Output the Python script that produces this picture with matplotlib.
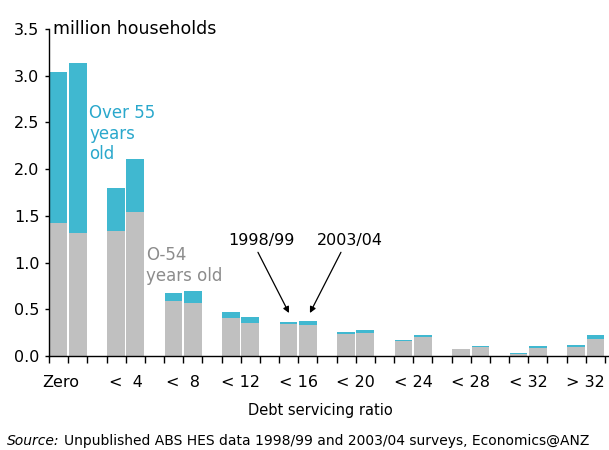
import matplotlib
matplotlib.use("Agg")
import matplotlib.pyplot as plt
import numpy as np

categories = ["Zero", "<  4", "<  8", "< 12", "< 16", "< 20", "< 24", "< 28", "< 32", "> 32"]

# million households, split by age of household head
under55_9899 = [1.42, 1.34, 0.59, 0.41, 0.34, 0.24, 0.16, 0.075, 0.025, 0.10]
total_9899   = [3.04, 1.80, 0.67, 0.47, 0.36, 0.26, 0.175, 0.075, 0.035, 0.12]
under55_0304 = [1.32, 1.54, 0.57, 0.35, 0.33, 0.25, 0.20, 0.10, 0.09, 0.18]
total_0304   = [3.14, 2.11, 0.70, 0.42, 0.37, 0.28, 0.225, 0.11, 0.11, 0.22]

y_ticks = [0.0, 0.5, 1.0, 1.5, 2.0, 2.5, 3.0, 3.5]

TEAL = "#40B8D0"
GREY = "#C0C0C0"

plt.rcParams["font.family"] = "DejaVu Sans"

fig = plt.figure(figsize=(6.09, 4.50), dpi=100)
ax = fig.add_axes([49 / 609, 94 / 450, 560 / 609, 327 / 450])

n = len(categories)
idx = np.arange(n)
x1 = 3 * idx + 0.5
x2 = 3 * idx + 1.5
w = 0.92

u1 = np.array(under55_9899)
u2 = np.array(under55_0304)
o1 = np.array(total_9899) - u1
o2 = np.array(total_0304) - u2

ax.bar(x1, u1, width=w, color=GREY, linewidth=0)
ax.bar(x1, o1, bottom=u1, width=w, color=TEAL, linewidth=0)
ax.bar(x2, u2, width=w, color=GREY, linewidth=0)
ax.bar(x2, o2, bottom=u2, width=w, color=TEAL, linewidth=0)

ax.set_xlim(0, 560 / 19.17)
ax.set_ylim(0, 3.5)

for s in ["top", "right"]:
    ax.spines[s].set_visible(False)
for s in ["left", "bottom"]:
    ax.spines[s].set_color("black")
    ax.spines[s].set_linewidth(1.0)

ax.set_yticks(y_ticks)
ax.set_yticklabels([f"{v:.1f}" for v in y_ticks])
ax.tick_params(axis="y", length=3, width=1, labelsize=11.5, pad=4)

ax.set_xticks(np.arange(0, 30, 1))
ax.set_xticklabels([])
ax.tick_params(axis="x", length=5, width=1, direction="out")

for i, lab in enumerate(categories):
    xc = 3 * i + 1.0 - (0.4 if i == 0 else 0.0)
    ax.text(xc, -0.20, lab, ha="center", va="top", fontsize=11.5, clip_on=False)

fig.text(320 / 609, 1 - 411 / 450, "Debt servicing ratio", ha="center", va="center", fontsize=10.5)
fig.text(7 / 609, 1 - 441 / 450, "Source:", ha="left", va="center", fontsize=10, style="italic")
fig.text(64 / 609, 1 - 441 / 450,
         "Unpublished ABS HES data 1998/99 and 2003/04 surveys, Economics@ANZ",
         ha="left", va="center", fontsize=10)

ax.text(0.2, 3.5, "million households", ha="left", va="center", fontsize=12.5)

ax.text(2.09, 2.70, "Over 55\nyears\nold", ha="left", va="top", fontsize=12,
        color="#2AA8CC", linespacing=1.2)
ax.text(5.06, 1.18, "O-54\nyears old", ha="left", va="top", fontsize=12,
        color="#8C8C8C", linespacing=1.2)

ax.text(11.06, 1.24, "1998/99", ha="center", va="center", fontsize=11.5)
ax.text(15.7, 1.24, "2003/04", ha="center", va="center", fontsize=11.5)

arrow_style = dict(arrowstyle="-|>", color="black", lw=0.9, shrinkA=0, shrinkB=0,
                   mutation_scale=9)
ax.annotate("", xy=(12.52, 0.46), xytext=(10.9, 1.11), arrowprops=arrow_style)
ax.annotate("", xy=(13.61, 0.46), xytext=(15.23, 1.11), arrowprops=arrow_style)

fig.savefig("out.png", dpi=100)
